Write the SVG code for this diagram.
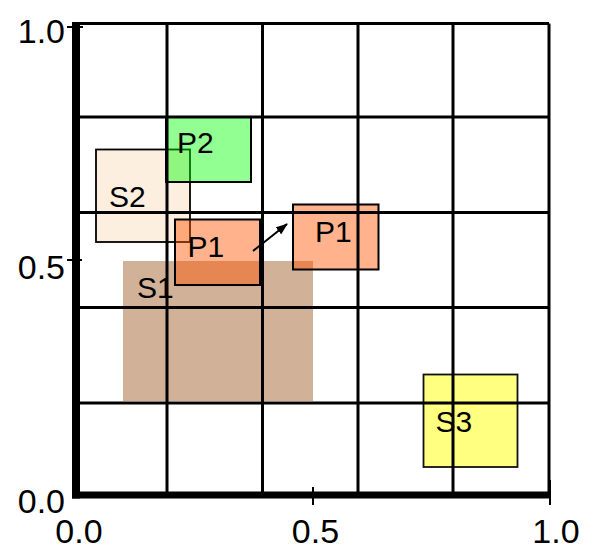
<svg xmlns="http://www.w3.org/2000/svg" width="593" height="557" viewBox="0 0 593 557">
<defs>
<style>
text{font-family:"Liberation Sans",Arial,sans-serif;fill:#000}
.lbl{font-size:30px}
.ax{font-size:34px}
.grid line{stroke:#000;stroke-width:3}
.tick{stroke:#000;stroke-width:2}
.pr{fill:#ff5500;fill-opacity:0.45;stroke:#000;stroke-width:2}
.pg{fill:#00ff00;fill-opacity:0.43;stroke:#000;stroke-width:2}
</style>
<marker id="ah" viewBox="0 0 12 9" refX="11" refY="4.5" markerWidth="6" markerHeight="4.5" orient="auto" markerUnits="strokeWidth">
<path d="M0,0 L12,4.5 L0,9 z" fill="#000"/>
</marker>
</defs>
<rect width="593" height="557" fill="#fff"/>
<g id="S1">
<rect x="123" y="261" width="190" height="140" fill="#d1b197"/>
<text class="lbl" x="137" y="298">S1</text>
</g>
<g id="S2">
<rect x="96" y="149.5" width="94" height="92.5" fill="#fdefdf" stroke="#000" stroke-width="1.8"/>
<text class="lbl" x="109" y="207">S2</text>
</g>
<g id="S3">
<rect x="423.5" y="374.5" width="94" height="92.5" fill="#ffff80" stroke="#111" stroke-width="1.8"/>
<text class="lbl" x="435.5" y="432">S3</text>
</g>
<g id="P2">
<rect class="pg" x="166" y="117" width="85" height="65"/>
<text class="lbl" x="177" y="153">P2</text>
</g>
<g id="P1a">
<rect class="pr" x="175" y="219.5" width="85" height="65.5"/>
<text class="lbl" x="187.5" y="257">P1</text>
</g>
<g id="P1b">
<rect class="pr" x="293" y="204.5" width="85.5" height="65"/>
<text class="lbl" x="315" y="242">P1</text>
</g>
<g class="grid" id="grid">
<line x1="167" y1="23.5" x2="167" y2="498"/>
<line x1="262.5" y1="23.5" x2="262.5" y2="498"/>
<line x1="358" y1="23.5" x2="358" y2="498"/>
<line x1="453" y1="23.5" x2="453" y2="498"/>
<line x1="549" y1="23.5" x2="549" y2="498"/>
<line x1="72" y1="23.5" x2="549" y2="23.5"/>
<line x1="72" y1="117" x2="549" y2="117"/>
<line x1="72" y1="212.5" x2="549" y2="212.5"/>
<line x1="72" y1="307.5" x2="549" y2="307.5"/>
<line x1="72" y1="403" x2="549" y2="403"/>
</g>
<g id="axes">
<rect x="72" y="25" width="8" height="473.5" fill="#000"/>
<rect x="72" y="491.5" width="478" height="7" fill="#000"/>
<line class="tick" x1="67" y1="27" x2="83" y2="27"/>
<line class="tick" x1="67" y1="260" x2="82" y2="260"/>
<line class="tick" x1="313" y1="487" x2="313" y2="505"/>
<line class="tick" x1="550" y1="480" x2="550" y2="505"/>
<text class="ax" x="65" y="43" text-anchor="end">1.0</text>
<text class="ax" x="65" y="279" text-anchor="end">0.5</text>
<text class="ax" x="65" y="513" text-anchor="end">0.0</text>
<text class="ax" x="79" y="543" text-anchor="middle">0.0</text>
<text class="ax" x="315.5" y="543" text-anchor="middle">0.5</text>
<text class="ax" x="556" y="543" text-anchor="middle">1.0</text>
</g>
<g id="connectors">
<line x1="253" y1="251" x2="287" y2="224" stroke="#000" stroke-width="2" marker-end="url(#ah)"/>
</g>
</svg>
